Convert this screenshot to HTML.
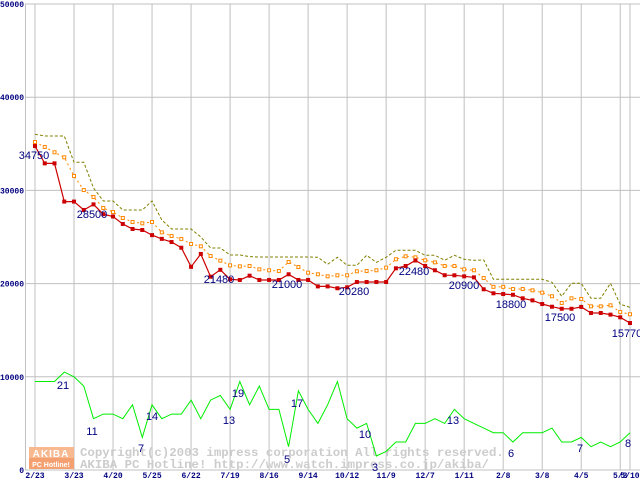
<!DOCTYPE html>
<html><head><meta charset="utf-8"><style>
html,body{margin:0;padding:0;background:#fff;}
svg{display:block;}
</style></head><body>
<svg id="chart" width="640" height="480" xmlns="http://www.w3.org/2000/svg" font-family="Liberation Sans, sans-serif">
</svg>
<script>
const dateLabels = ["2/23","3/23","4/20","5/25","6/22","7/19","8/16","9/14","10/12","11/9","12/7","1/11","2/8","3/8","4/5","5/3","5/10"];
const dateIdx = [0,4,8,12,16,20,24,28,32,36,40,44,48,52,56,60,61];
const yTicks = [0,10000,20000,30000,40000,50000];
const minPrice = [34760,32900,32900,28800,28800,27900,28500,27450,27200,26400,25860,25750,25200,24800,24460,23850,21800,23180,20740,21480,20460,20390,20850,20390,20390,20390,21000,20390,20390,19700,19700,19500,19600,20170,20170,20170,20170,21640,21890,22480,21890,21430,20900,20890,20780,20670,19390,18960,18880,18800,18420,18200,17810,17520,17300,17300,17500,16850,16850,16670,16380,15770];
const avgPrice = [35190,34660,34090,33550,31550,30040,29290,28110,27680,27040,26610,26470,26610,25500,25110,24790,24250,24000,22960,22460,21960,21850,21890,21530,21430,21350,22320,21780,21170,21000,20780,20890,20890,21320,21350,21430,21710,22610,22930,22820,22500,22280,21890,21890,21530,21430,20600,19650,19650,19420,19420,19280,19030,18640,17920,18420,18350,17560,17560,17670,16950,16710];
const maxPrice = [36020,35840,35840,35840,33010,33010,30260,28860,28860,27900,27900,27900,28860,26820,25860,25860,25860,25000,23820,23820,23070,23070,22900,22850,22850,22850,22850,22850,22850,22820,22070,22820,21960,21960,23040,22280,22820,23570,23570,23570,23040,23040,22500,23040,22610,22500,22530,20460,20460,20460,20460,20460,20460,20140,18640,20030,20030,18420,18420,20030,17780,17460];
const shopCount = [19,19,19,21,20,18,11,12,12,11,14,7,14,11,12,12,15,11,15,16,13,19,14,18,13,13,5,17,13,10,14,19,11,9,10,3,4,6,6,10,10,11,10,13,11,10,9,8,8,6,8,8,8,9,6,6,7,5,6,5,6,8];
const countScale = 500;
const priceLabels = [["34750",34,155],["28500",92,214],["21480",219,279],["21000",287,284],["20280",354,291],["22480",414,271],["20900",464,285],["18800",511,304],["17500",560,317],["15770",627,333]];
const countLabels = [["21",63,385],["11",92,431],["7",141,448],["14",152,416],["13",229,420],["19",238,393],["5",287,459],["17",297,403],["10",365,434],["3",375,467],["13",453,420],["6",511,453],["7",580,448],["8",628,443]];

const NS="http://www.w3.org/2000/svg";
const svg=document.getElementById('chart');
const X0=35, STEP=9.754, Y0=470, YS=466/50000;
const xs=i=>X0+i*STEP;
const ys=v=>Y0-v*YS;
function mk(tag,attrs,parent){const e=document.createElementNS(NS,tag);for(const k in attrs)e.setAttribute(k,attrs[k]);(parent||svg).appendChild(e);return e;}

const grid=mk('g',{});


yTicks.forEach(v=>{mk('line',{x1:25,x2:640,y1:ys(v),y2:ys(v),stroke:'#c0c0c0','stroke-width':1},grid);});
mk('line',{x1:25.5,x2:25.5,y1:4,y2:470,stroke:'#c0c0c0'},grid);
dateIdx.forEach(i=>{mk('line',{x1:xs(i),x2:xs(i),y1:4,y2:470,stroke:'#c0c0c0'},grid);});

yTicks.forEach(v=>{const t=mk('text',{x:24,y:ys(v)+3,'text-anchor':'end','font-size':8,'font-weight':'bold',fill:'#000080','font-family':'Liberation Mono, monospace'});t.textContent=String(v);

});
dateLabels.forEach((d,k)=>{const t=mk('text',{x:xs(dateIdx[k]),y:478,'text-anchor':'middle','font-size':8,'font-weight':'bold',fill:'#000080','font-family':'Liberation Mono, monospace'});t.textContent=d;

});

const wm=mk('g',{});


mk('rect',{x:29,y:447,width:45,height:11,fill:'#f8b890'},wm);
mk('rect',{x:29,y:458,width:45,height:11,fill:'#f5a070'},wm);
let t=mk('text',{x:51,y:457,'text-anchor':'middle','font-size':10,'font-weight':'bold',fill:'#fff','font-family':'Liberation Sans, sans-serif','letter-spacing':1},wm);t.textContent='AKIBA';
t=mk('text',{x:51,y:467,'text-anchor':'middle','font-size':7,'font-weight':'bold',fill:'#fff'},wm);t.textContent='PC Hotline!';
t=mk('text',{x:80,y:456,'font-size':12.4,'font-weight':'bold',fill:'#cccccc','font-family':'Liberation Mono, monospace'},wm);t.textContent='Copyright(c)2003 impress corporation All rights reserved.';
t=mk('text',{x:80,y:468,'font-size':12.4,'font-weight':'bold',fill:'#cccccc','font-family':'Liberation Mono, monospace'},wm);t.textContent='AKIBA PC Hotline!  http://www.watch.impress.co.jp/akiba/';

function pts(arr,sc){return arr.map((v,i)=>xs(i).toFixed(1)+','+ys(v*sc).toFixed(1)).join(' ');}
let pl=mk('polyline',{points:pts(shopCount,countScale),fill:'none',stroke:'#00ee00','stroke-width':1});


pl=mk('polyline',{points:pts(maxPrice,1),fill:'none',stroke:'#808000','stroke-width':1,'stroke-dasharray':'3,2'});


pl=mk('polyline',{points:pts(avgPrice,1),fill:'none',stroke:'#ff8800','stroke-width':1,'stroke-dasharray':'2,3'});


avgPrice.forEach((v,i)=>{const r=mk('rect',{x:xs(i)-1.5,y:ys(v)-1.5,width:3,height:3,fill:'#fff',stroke:'#ff8800','stroke-width':1});

});
pl=mk('polyline',{points:pts(minPrice,1),fill:'none',stroke:'#cc0000','stroke-width':1.2});


minPrice.forEach((v,i)=>{const r=mk('rect',{x:xs(i)-2,y:ys(v)-2,width:4,height:4,fill:'#cc0000'});

});

priceLabels.forEach(p=>{const e=mk('text',{x:p[1],y:p[2]+4,'text-anchor':'middle','font-size':11,fill:'#000080','font-family':'Liberation Sans, sans-serif'});e.textContent=p[0];

});
countLabels.forEach(p=>{const e=mk('text',{x:p[1],y:p[2]+4,'text-anchor':'middle','font-size':11,fill:'#000080','font-family':'Liberation Sans, sans-serif'});e.textContent=p[0];

});
</script>
</body></html>
